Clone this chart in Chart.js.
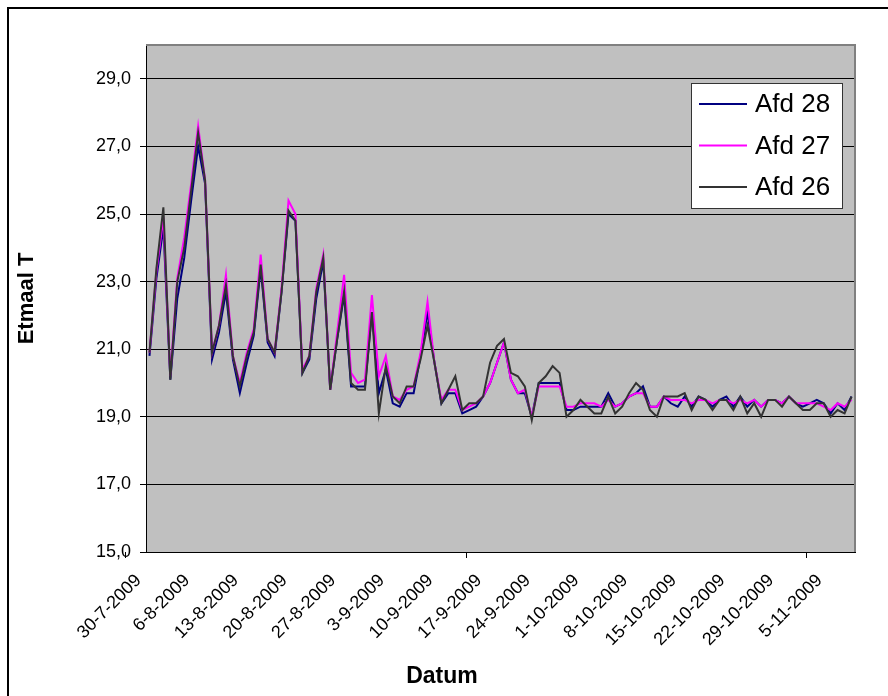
<!DOCTYPE html>
<html>
<head>
<meta charset="utf-8">
<script src="https://cdn.jsdelivr.net/npm/chart.js@4/dist/chart.umd.min.js"></script>
<style>
  html, body { margin: 0; padding: 0; background: #fff; }
  canvas { display: block; }
</style>
</head>
<body>
<canvas id="chart" width="888" height="696"></canvas>
<script>
// Daily dates, 30 July - 8 November 2009
const dates = [
  '30-7-2009','31-7-2009',
  '1-8-2009','2-8-2009','3-8-2009','4-8-2009','5-8-2009','6-8-2009','7-8-2009','8-8-2009','9-8-2009','10-8-2009',
  '11-8-2009','12-8-2009','13-8-2009','14-8-2009','15-8-2009','16-8-2009','17-8-2009','18-8-2009','19-8-2009','20-8-2009',
  '21-8-2009','22-8-2009','23-8-2009','24-8-2009','25-8-2009','26-8-2009','27-8-2009','28-8-2009','29-8-2009','30-8-2009','31-8-2009',
  '1-9-2009','2-9-2009','3-9-2009','4-9-2009','5-9-2009','6-9-2009','7-9-2009','8-9-2009','9-9-2009','10-9-2009',
  '11-9-2009','12-9-2009','13-9-2009','14-9-2009','15-9-2009','16-9-2009','17-9-2009','18-9-2009','19-9-2009','20-9-2009',
  '21-9-2009','22-9-2009','23-9-2009','24-9-2009','25-9-2009','26-9-2009','27-9-2009','28-9-2009','29-9-2009','30-9-2009',
  '1-10-2009','2-10-2009','3-10-2009','4-10-2009','5-10-2009','6-10-2009','7-10-2009','8-10-2009','9-10-2009','10-10-2009',
  '11-10-2009','12-10-2009','13-10-2009','14-10-2009','15-10-2009','16-10-2009','17-10-2009','18-10-2009','19-10-2009','20-10-2009',
  '21-10-2009','22-10-2009','23-10-2009','24-10-2009','25-10-2009','26-10-2009','27-10-2009','28-10-2009','29-10-2009','30-10-2009','31-10-2009',
  '1-11-2009','2-11-2009','3-11-2009','4-11-2009','5-11-2009','6-11-2009','7-11-2009','8-11-2009'
];

// Daily mean temperature per department
const afd28 = [
  20.8,23.1,24.6,20.1,22.5,23.7,25.4,27.0,25.9,20.7,
  21.5,22.7,20.7,19.7,20.6,21.4,23.4,21.2,20.8,22.7,
  25.0,24.8,20.3,20.7,22.5,23.6,19.8,21.3,22.6,19.9,
  19.9,19.9,22.1,19.7,20.4,19.4,19.3,19.7,19.7,20.8,
  22.1,20.6,19.4,19.7,19.7,19.1,19.2,19.3,19.6,20.0,
  20.6,21.2,20.1,19.7,19.7,19.0,20.0,20.0,20.0,20.0,
  19.2,19.2,19.3,19.3,19.3,19.3,19.7,19.3,19.4,19.6,
  19.7,19.9,19.3,19.3,19.6,19.4,19.3,19.6,19.3,19.6,
  19.5,19.3,19.5,19.6,19.3,19.6,19.3,19.5,19.3,19.5,
  19.5,19.4,19.6,19.4,19.3,19.4,19.5,19.4,19.1,19.4,
  19.2,19.6
];
const afd27 = [
  20.9,23.3,24.9,20.2,23.1,24.3,25.9,27.6,26.0,20.9,
  21.7,23.2,20.8,20.0,20.9,21.6,23.8,21.3,20.9,22.8,
  25.4,25.0,20.4,20.8,22.8,23.8,19.8,21.5,23.2,20.3,
  20.0,20.1,22.6,20.2,20.8,19.6,19.5,19.8,19.9,20.9,
  22.4,20.6,19.5,19.8,19.8,19.2,19.3,19.4,19.6,20.0,
  20.6,21.2,20.1,19.7,19.8,19.0,19.9,19.9,19.9,19.9,
  19.3,19.3,19.4,19.4,19.4,19.3,19.5,19.3,19.4,19.6,
  19.7,19.7,19.3,19.3,19.6,19.5,19.5,19.5,19.4,19.5,
  19.5,19.4,19.5,19.5,19.4,19.5,19.4,19.5,19.3,19.5,
  19.5,19.4,19.6,19.4,19.4,19.4,19.4,19.3,19.2,19.4,
  19.3,19.5
];
const afd26 = [
  20.9,23.4,25.2,20.1,23.0,24.0,25.7,27.4,26.0,20.9,
  21.7,22.9,20.8,19.9,20.8,21.5,23.5,21.3,20.9,22.7,
  25.1,24.8,20.3,20.8,22.7,23.7,19.8,21.3,22.7,20.0,
  19.8,19.8,22.1,19.1,20.5,19.6,19.4,19.9,19.9,20.7,
  21.7,20.6,19.4,19.8,20.2,19.2,19.4,19.4,19.6,20.6,
  21.1,21.3,20.3,20.2,19.9,18.9,20.0,20.2,20.5,20.3,
  19.0,19.2,19.5,19.3,19.1,19.1,19.6,19.1,19.3,19.7,
  20.0,19.8,19.2,19.0,19.6,19.6,19.6,19.7,19.2,19.6,
  19.5,19.2,19.5,19.5,19.2,19.6,19.1,19.4,19.0,19.5,
  19.5,19.3,19.6,19.4,19.2,19.2,19.4,19.4,19.0,19.2,
  19.1,19.6
];

const seriesNames = ['Afd 28', 'Afd 27', 'Afd 26'];
const seriesColors = ['#000080', '#FF00FF', '#333333'];
const yTickValues = [15, 17, 19, 21, 23, 25, 27, 29];
const labelEvery = 7;

const FONT = '"Liberation Sans", Arial, sans-serif';

// Grey plot area, its outline, x tick marks, the outer chart border, the x title and the boxed legend
const excelFrame = {
  id: 'excelFrame',
  beforeDraw(chart) {
    const { ctx, chartArea: a } = chart;
    ctx.save();
    ctx.fillStyle = '#C0C0C0';
    ctx.fillRect(a.left, a.top, a.right - a.left, a.bottom - a.top);
    ctx.restore();
  },
  afterDraw(chart) {
    const { ctx, chartArea: a } = chart;
    const xs = chart.scales.x;
    ctx.save();

    // tick marks on the category boundaries in front of every labelled week
    const half = (xs.getPixelForTick(1) - xs.getPixelForTick(0)) / 2;
    ctx.strokeStyle = '#000';
    ctx.lineWidth = 1;
    ctx.beginPath();
    for (let i = 0; i < xs.ticks.length; i += labelEvery) {
      const x = Math.round(xs.getPixelForTick(i) - half) + 0.5;
      ctx.moveTo(x, a.bottom);
      ctx.lineTo(x, a.bottom + 6);
    }
    ctx.stroke();

    ctx.strokeStyle = '#808080';
    ctx.lineWidth = 2;
    ctx.beginPath();
    ctx.moveTo(a.left, a.top);
    ctx.lineTo(a.right, a.top);
    ctx.lineTo(a.right, a.bottom);
    ctx.stroke();

    ctx.fillStyle = '#000';
    ctx.fillRect(7, 7, 881, 2);
    ctx.fillRect(7, 7, 2, 689);

    ctx.font = 'bold 23px ' + FONT;
    ctx.textAlign = 'center';
    ctx.textBaseline = 'middle';
    ctx.fillText('Datum', 442, 677);

    // legend box
    const lx = 691, ly = 83, lw = 151, lh = 125;
    ctx.fillStyle = '#fff';
    ctx.fillRect(lx, ly, lw, lh);
    ctx.strokeStyle = '#333';
    ctx.lineWidth = 1;
    ctx.strokeRect(lx + 0.5, ly + 0.5, lw, lh);
    ctx.font = '26px ' + FONT;
    ctx.textAlign = 'left';
    chart.data.datasets.forEach((ds, i) => {
      const y = 104 + i * 41.5;
      ctx.strokeStyle = ds.borderColor;
      ctx.lineWidth = 2;
      ctx.beginPath();
      ctx.moveTo(699, y);
      ctx.lineTo(747, y);
      ctx.stroke();
      ctx.fillStyle = '#000';
      ctx.fillText(ds.label, 755, y + 1);
    });
    ctx.restore();
  }
};

const series = [afd28, afd27, afd26];

new Chart(document.getElementById('chart'), {
  type: 'line',
  data: {
    labels: dates,
    datasets: series.map((values, i) => ({
      label: seriesNames[i],
      data: values,
      borderColor: seriesColors[i],
      backgroundColor: seriesColors[i],
      borderWidth: 2,
      pointRadius: 0,
      tension: 0,
      fill: false,
      order: series.length - i
    }))
  },
  options: {
    responsive: false,
    animation: false,
    devicePixelRatio: 1,
    layout: { padding: { top: 45, right: 33, left: 0, bottom: 0 } },
    plugins: {
      legend: { display: false },
      tooltip: { enabled: false }
    },
    scales: {
      x: {
        type: 'category',
        offset: true,
        grid: {
          offset: true,
          display: false
        },
        border: { display: true, color: '#000', width: 1 },
        ticks: {
          autoSkip: false,
          maxRotation: 45,
          minRotation: 45,
          padding: 10,
          labelOffset: -11,
          color: '#000',
          font: { family: FONT, size: 18 },
          callback: function (value, index) {
            return index % labelEvery === 0 ? this.getLabelForValue(value) : null;
          }
        },
        afterFit: (scale) => { scale.height = 144; }
      },
      y: {
        min: 15,
        max: 30,
        afterBuildTicks: (scale) => { scale.ticks = yTickValues.map(v => ({ value: v })); },
        grid: {
          color: '#000',
          lineWidth: 1,
          drawTicks: true,
          tickLength: 6,
          tickColor: '#000'
        },
        border: { display: true, color: '#000', width: 1 },
        ticks: {
          padding: 9,
          color: '#000',
          font: { family: FONT, size: 18 },
          callback: (v) => Number(v).toFixed(1).replace('.', ',')
        },
        title: {
          display: true,
          text: 'Etmaal T',
          color: '#000',
          font: { family: FONT, size: 22, weight: 'bold' },
          padding: { top: 14, bottom: 0 }
        },
        afterFit: (scale) => { scale.width = 146; }
      }
    }
  },
  plugins: [excelFrame]
});
</script>
</body>
</html>
